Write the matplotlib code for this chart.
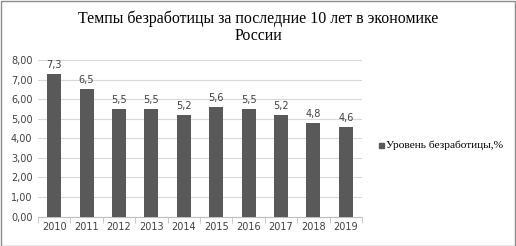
import matplotlib.pyplot as plt
from matplotlib.patches import Rectangle
import numpy as np

# данные
years = ["2010", "2011", "2012", "2013", "2014", "2015", "2016", "2017", "2018", "2019"]
rate = [7.3, 6.5, 5.5, 5.5, 5.2, 5.6, 5.5, 5.2, 4.8, 4.6]
yticks = [0, 1, 2, 3, 4, 5, 6, 7, 8]

fig = plt.figure(figsize=(5.16, 2.46), dpi=100)
ax = fig.add_axes([38/516, 1-216.5/246, 324/516, 156.5/246])

x = np.arange(len(years))
ax.bar(x, rate, width=0.43, color="#595959", zorder=3)
for xi, v in zip(x, rate):
    ax.text(xi, v + 0.2, ("%.1f" % v).replace(".", ","), ha="center", va="bottom",
            fontsize=7, color="#404040", family="DejaVu Sans")

ax.set_xlim(-0.5, len(years) - 0.5)
ax.set_ylim(0, 8)
ax.set_yticks(yticks)
ax.set_yticklabels([("%.2f" % t).replace(".", ",") for t in yticks])
ax.set_xticks(x)
ax.set_xticklabels(years)
ax.tick_params(axis="both", labelsize=7, labelcolor="#404040", length=0, pad=4)
ax.set_xticks(np.arange(-0.5, len(years), 1), minor=True)
ax.tick_params(axis="x", which="minor", length=4, color="#bfbfbf", direction="out")
ax.grid(axis="y", color="#d9d9d9", linewidth=0.8, zorder=0)
for s in ["top", "right", "left"]:
    ax.spines[s].set_visible(False)
ax.spines["bottom"].set_color("#bfbfbf")

fig.text(0.5, 1-18.5/246, "Темпы безработицы за последние 10 лет в экономике",
         ha="center", va="center", fontsize=11.4, family="Liberation Serif")
fig.text(0.5, 1-35.5/246, "России", ha="center", va="center", fontsize=11.4,
         family="Liberation Serif")

# легенда
fig.patches.append(Rectangle((379/516, 1-148/246), 5/516, 5/246,
                             transform=fig.transFigure, color="#595959"))
fig.text(386/516, 1-145.5/246, "Уровень безработицы,%", ha="left", va="center",
         fontsize=8.2, family="Liberation Serif")

fig.patches.append(Rectangle((0.5/516, 0.5/246), 514.5/516, 244.5/246,
                             transform=fig.transFigure, fill=False,
                             edgecolor="#8c8c8c", linewidth=1))

fig.savefig("out.png", dpi=100)
